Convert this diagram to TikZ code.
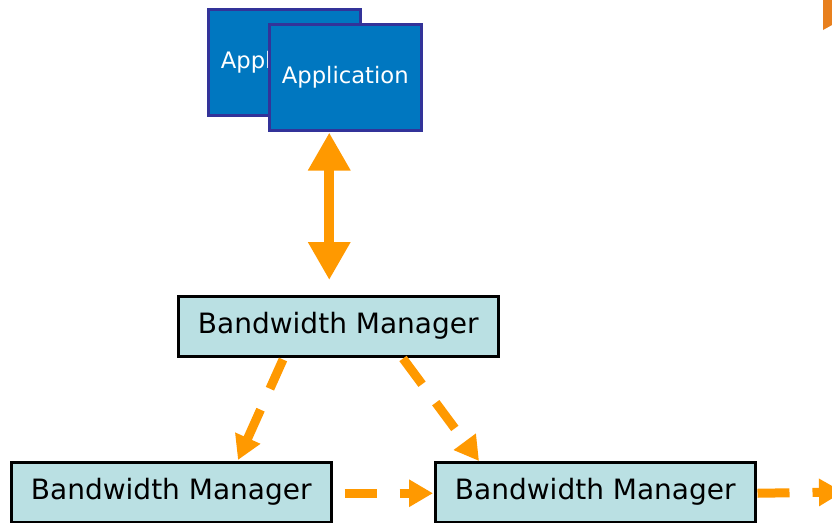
\documentclass[tikz,border=0pt]{standalone}
\usepackage{fontspec}
\setmainfont{DejaVu Sans}
\usetikzlibrary{arrows.meta,calc}
\definecolor{appblue}{HTML}{0077C0}
\definecolor{appedge}{HTML}{333399}
\definecolor{bmfill}{HTML}{BAE0E3}
\definecolor{arrorange}{HTML}{FF9900}
\definecolor{darkorange}{HTML}{E8801E}
\tikzset{
  appbox/.style={draw=appedge, line width=2.5pt, fill=appblue, text=white, anchor=north west,
    minimum width=152pt, minimum height=106pt, inner sep=0pt,
    font=\fontsize{22.7pt}{27pt}\selectfont},
  bmbox/.style={draw=black, line width=2.5pt, fill=bmfill, text=black, anchor=north west,
    minimum width=320pt, minimum height=60pt, inner sep=0pt,
    font=\fontsize{28pt}{33pt}\selectfont},
  bigarrow/.style={draw=arrorange, line width=10pt,
    {Triangle[width=40pt,length=38pt]}-{Triangle[width=40pt,length=38pt]}},
  dasharrow/.style={draw=arrorange, line width=9pt, dash pattern=on 32pt off 23pt,
    -{Triangle[width=26pt,length=24pt]}}
}
\begin{document}
\begin{tikzpicture}[x=1pt,y=-1pt]
\useasboundingbox (0,0) rectangle (832,522);
\clip (0,0) rectangle (832,522);
\fill[white] (0,0) rectangle (832,522);

\node[appbox] (app1) at (207,8) {Application};
\node[appbox] (app2) at (268,23) {Application};

\node[bmbox] (bmtop) at (177,295) {Bandwidth Manager};
\node[bmbox] (bml) at (10,461) {Bandwidth Manager};
\node[bmbox] (bmr) at (434,461) {Bandwidth Manager};
\coordinate (offright) at (843,492);

\draw[bigarrow] ($(app2.south)+(-16,1)$) -- ($(bmtop.north)+(-9,-15)$);

\draw[dasharrow] ($(bmtop.south west)+(106,2)$) -- ($(bml.north west)+(228,-1)$);
\draw[dasharrow] ($(bmtop.south west)+(226,1)$) -- ($(bmr.north west)+(45,0)$);
\draw[dasharrow] ($(bml.east)+(12,1)$) -- ($(bmr.west)+(-1,1)$);
\draw[dasharrow] ($(bmr.east)+(1,1)$) -- (offright);

\fill[darkorange] (823,-2) -- (832,-2) -- (832,25) -- (823,30) -- cycle;
\end{tikzpicture}
\end{document}
